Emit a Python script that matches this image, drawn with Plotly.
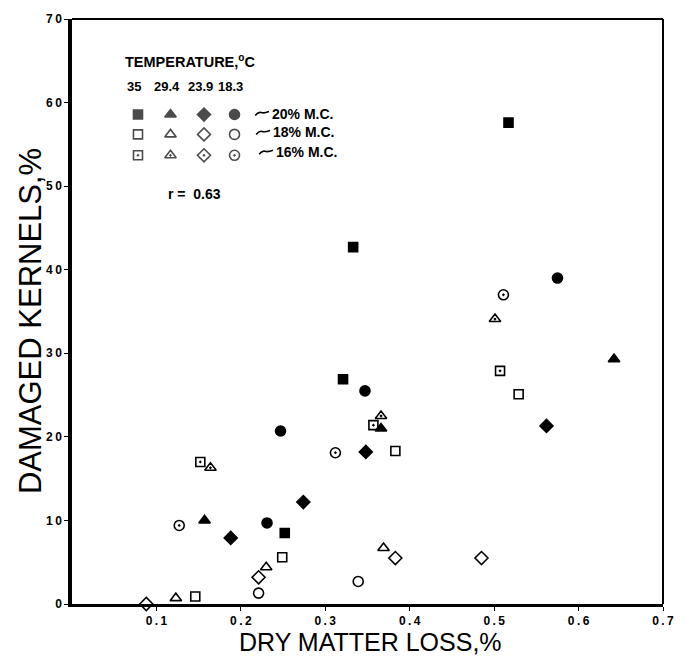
import plotly.graph_objects as go

# Storage temperatures (deg C) and moisture contents
temps_c = ["35", "29.4", "23.9", "18.3"]
moisture = ["20% M.C.", "18% M.C.", "16% M.C."]
r_value = 0.63

# 20% moisture content: dry matter loss (%) vs damaged kernels (%)
dml_20_35 = [0.517, 0.333, 0.321, 0.252]
dk_20_35 = [57.6, 42.7, 26.9, 8.5]
dml_20_294 = [0.157, 0.366, 0.642]
dk_20_294 = [10.0, 21.0, 29.3]
dml_20_239 = [0.188, 0.274, 0.348, 0.562]
dk_20_239 = [7.9, 12.2, 18.2, 21.3]
dml_20_183 = [0.231, 0.247, 0.347, 0.575]
dk_20_183 = [9.7, 20.7, 25.5, 39.0]

# 18% moisture content
dml_18_35 = [0.146, 0.249, 0.383, 0.529]
dk_18_35 = [0.9, 5.6, 18.3, 25.1]
dml_18_294 = [0.123, 0.230, 0.369]
dk_18_294 = [0.7, 4.4, 6.7]
dml_18_239 = [0.088, 0.221, 0.383, 0.485]
dk_18_239 = [0.0, 3.2, 5.5, 5.5]
dml_18_183 = [0.221, 0.339]
dk_18_183 = [1.3, 2.7]

# 16% moisture content
dml_16_35 = [0.152, 0.357, 0.507]
dk_16_35 = [17.0, 21.4, 27.9]
dml_16_294 = [0.164, 0.366, 0.501]
dk_16_294 = [16.3, 22.5, 34.1]
dml_16_183 = [0.127, 0.312, 0.511]
dk_16_183 = [9.4, 18.1, 37.0]

x_ticks = [0.1, 0.2, 0.3, 0.4, 0.5, 0.6, 0.7]
y_ticks = [0, 10, 20, 30, 40, 50, 60, 70]

BLACK = "#000000"
FONT = "Liberation Sans, Arial, Helvetica, sans-serif"

# marker shape per temperature, marker style per moisture content
shape_by_temp = {"35": "square", "29.4": "triangle-up", "23.9": "diamond", "18.3": "circle"}
size_by_temp = {"35": 9, "29.4": 10, "23.9": 10, "18.3": 10}
suffix_by_mc = {"20% M.C.": "", "18% M.C.": "-open", "16% M.C.": "-open-dot"}

series = [
    ("20% M.C.", "35", dml_20_35, dk_20_35),
    ("20% M.C.", "29.4", dml_20_294, dk_20_294),
    ("20% M.C.", "23.9", dml_20_239, dk_20_239),
    ("20% M.C.", "18.3", dml_20_183, dk_20_183),
    ("18% M.C.", "35", dml_18_35, dk_18_35),
    ("18% M.C.", "29.4", dml_18_294, dk_18_294),
    ("18% M.C.", "23.9", dml_18_239, dk_18_239),
    ("18% M.C.", "18.3", dml_18_183, dk_18_183),
    ("16% M.C.", "35", dml_16_35, dk_16_35),
    ("16% M.C.", "29.4", dml_16_294, dk_16_294),
    ("16% M.C.", "18.3", dml_16_183, dk_16_183),
]


def marker_for(mc, temp):
    return dict(
        symbol=shape_by_temp[temp] + suffix_by_mc[mc],
        size=size_by_temp[temp],
        color=BLACK,
        opacity=1,
        line=dict(color=BLACK, width=1.6),
    )


fig = go.Figure()
for mc, temp, xs, ys in series:
    fig.add_trace(go.Scatter(
        x=xs, y=ys, mode="markers", name=f"{temp} °C, {mc}",
        marker=marker_for(mc, temp), cliponaxis=False, showlegend=False,
    ))

# Key drawn on an overlay axis measured in layout pixels
key_cols = [139, 172, 206, 237]
key_rows = [112, 132, 153]
kx, ky, ksym, ksize = [], [], [], []
for r, mc in enumerate(moisture):
    for c, temp in enumerate(temps_c):
        kx.append(key_cols[c])
        ky.append(key_rows[r])
        ksym.append(shape_by_temp[temp] + suffix_by_mc[mc])
        ksize.append(size_by_temp[temp])
fig.add_trace(go.Scatter(
    x=kx, y=ky, xaxis="x2", yaxis="y2", mode="markers", showlegend=False,
    hoverinfo="skip",
    marker=dict(symbol=ksym, size=ksize, color=BLACK, line=dict(color=BLACK, width=1.6)),
))

annotations = []
annotations.append(dict(
    x=124, y=58, xref="x2", yref="y2", xanchor="left", yanchor="middle",
    text="TEMPERATURE,<sup>o</sup>C", showarrow=False,
    font=dict(family=FONT, size=14.5, color=BLACK, weight="bold"),
))
for c, temp in enumerate(temps_c):
    annotations.append(dict(
        x=key_cols[c] - 4, y=84, xref="x2", yref="y2", xanchor="center",
        yanchor="middle", text=temp, showarrow=False,
        font=dict(family=FONT, size=13, color=BLACK, weight="bold"),
    ))
shapes = []
wave_x = [258, 259, 262]
for r, mc in enumerate(moisture):
    y0 = key_rows[r] - 1 - r
    x0 = wave_x[r]
    annotations.append(dict(
        x=x0 + 15, y=y0, xref="x2", yref="y2", xanchor="left", yanchor="middle",
        text=mc, showarrow=False, font=dict(family=FONT, size=14, color=BLACK, weight="bold"),
    ))
    shapes.append(dict(
        type="path", xref="x2", yref="y2",
        path=f"M {x0} {y0 + 2} Q {x0 + 3} {y0 - 2} {x0 + 6} {y0 - 1} T {x0 + 14} {y0 - 2}",
        line=dict(color=BLACK, width=1.6),
    ))
annotations.append(dict(
    x=167, y=192, xref="x2", yref="y2", xanchor="left", yanchor="middle",
    text=f"r =  {r_value:.2f}", showarrow=False,
    font=dict(family=FONT, size=14, color=BLACK, weight="bold"),
))

# Axis titles
annotations.append(dict(
    x=(375 - 72) / 600, y=(604 - 642) / 588, xref="paper", yref="paper",
    xanchor="center", yanchor="middle", text="DRY MATTER LOSS,%", showarrow=False,
    font=dict(family=FONT, size=25, color=BLACK),
))
annotations.append(dict(
    x=(30 - 72) / 600, y=(604 - 320) / 588, xref="paper", yref="paper",
    xanchor="center", yanchor="middle", textangle=-90, text="DAMAGED KERNELS,%",
    showarrow=False, font=dict(family=FONT, size=31, color=BLACK),
))

# Frame: heavy left and bottom axis lines, lighter top and right
shapes.append(dict(type="line", xref="paper", yref="paper", x0=0, x1=1, y0=1, y1=1,
                   line=dict(color=BLACK, width=2)))
shapes.append(dict(type="line", xref="paper", yref="paper", x0=1, x1=1, y0=0, y1=1,
                   line=dict(color=BLACK, width=2)))


def spaced(s):
    return "\u2009".join(s)


fig.update_layout(
    width=686, height=656,
    margin=dict(l=72, r=14, t=16, b=52),
    paper_bgcolor="white", plot_bgcolor="white",
    showlegend=False,
    xaxis=dict(
        range=[0, 0.7], tickvals=x_ticks, ticktext=[spaced(f"{v:.1f}") for v in x_ticks],
        showgrid=False, zeroline=False, showline=True, linecolor=BLACK, linewidth=3,
        ticks="outside", ticklen=4, tickwidth=1.2, tickcolor=BLACK,
        tickfont=dict(family=FONT, size=12, color=BLACK, weight="bold"),
    ),
    yaxis=dict(
        range=[0, 70], tickvals=y_ticks, ticktext=[spaced(str(v)) for v in y_ticks],
        showgrid=False, zeroline=False, showline=True, linecolor=BLACK, linewidth=3.5,
        ticks="outside", ticklen=4, tickwidth=1.2, tickcolor=BLACK,
        tickfont=dict(family=FONT, size=12, color=BLACK, weight="bold"),
    ),
    xaxis2=dict(range=[72, 672], overlaying="x", anchor="y2", visible=False),
    yaxis2=dict(range=[604, 16], overlaying="y", anchor="x2", visible=False),
    annotations=annotations,
    shapes=shapes,
)

fig.write_html("out.html")
